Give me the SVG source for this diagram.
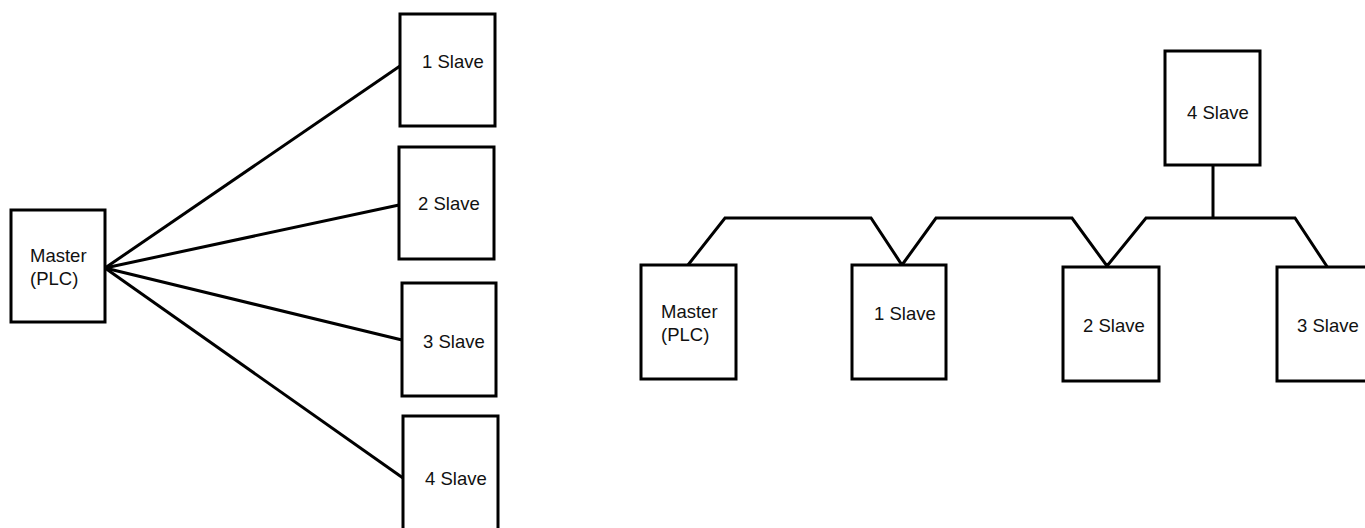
<svg xmlns="http://www.w3.org/2000/svg" width="1365" height="528" viewBox="0 0 1365 528">
<style>
.box{fill:#fff;stroke:#000;stroke-width:3}
.ln{fill:none;stroke:#000;stroke-width:3;stroke-linejoin:miter}
text{font-family:"Liberation Sans",Arial,sans-serif;font-size:18.5px;fill:#111}
</style>
<rect width="1365" height="528" fill="#fff"/>
<g id="connectors">
<line class="ln" x1="105" y1="268" x2="400" y2="66"/>
<line class="ln" x1="105" y1="268" x2="399" y2="205"/>
<line class="ln" x1="105" y1="268" x2="402" y2="340"/>
<line class="ln" x1="105" y1="268" x2="403" y2="478"/>
<path class="ln" d="M688 265 L725 218 L871 218 L902 265 L936 218 L1072 218 L1107 266 L1146 218 L1295 218 L1328 268"/>
<line class="ln" x1="1213" y1="165" x2="1213" y2="218"/>
</g>
<g id="left-master"><rect class="box" x="11" y="210" width="94" height="112"/><text x="30" y="262">Master</text><text x="30" y="285">(PLC)</text></g>
<g id="left-slave1"><rect class="box" x="400" y="14" width="95" height="112"/><text x="422" y="68">1 Slave</text></g>
<g id="left-slave2"><rect class="box" x="399" y="147" width="95" height="112"/><text x="418" y="210">2 Slave</text></g>
<g id="left-slave3"><rect class="box" x="402" y="283" width="94" height="113"/><text x="423" y="348">3 Slave</text></g>
<g id="left-slave4"><rect class="box" x="403" y="416" width="95" height="120"/><text x="425" y="485">4 Slave</text></g>
<g id="right-master"><rect class="box" x="641" y="265" width="95" height="114"/><text x="661" y="318">Master</text><text x="661" y="341">(PLC)</text></g>
<g id="right-slave1"><rect class="box" x="852" y="265" width="94" height="114"/><text x="874" y="320">1 Slave</text></g>
<g id="right-slave2"><rect class="box" x="1063" y="267" width="96" height="114"/><text x="1083" y="332">2 Slave</text></g>
<g id="right-slave3"><rect class="box" x="1277" y="267" width="100" height="114"/><text x="1297" y="332">3 Slave</text></g>
<g id="right-slave4"><rect class="box" x="1165" y="51" width="95" height="114"/><text x="1187" y="119">4 Slave</text></g>
</svg>
